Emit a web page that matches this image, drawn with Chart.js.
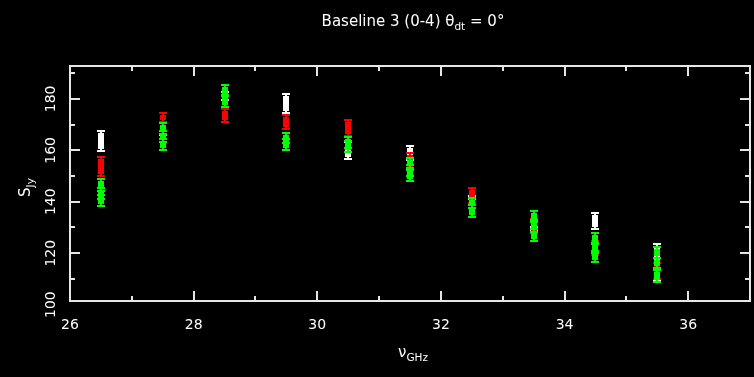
<!DOCTYPE html>
<html>
<head>
<meta charset="utf-8">
<script src="https://cdn.jsdelivr.net/npm/chart.js@4.4.1/dist/chart.umd.min.js"></script>
<style>
  html, body { margin: 0; padding: 0; background: #000; }
</style>
</head>
<body>
<canvas id="baseline" width="754" height="377"></canvas>
<script>
// tick labels
var xTicks = [26, 28, 30, 32, 34, 36];
var yTicks = [100, 120, 140, 160, 180];

// white points
var whiteFreq = [26.5, 27.5, 28.5, 29.5, 30.5, 31.5, 32.5, 33.5, 34.5, 35.5];
var whiteFlux = [163.6, 165.3, 181.0, 178.2, 160.0, 159.0, 141.5, 129.5, 132.5, 116.5];
var whiteErr  = [4.3, 1.2, 2.0, 4.0, 3.8, 3.0, 1.0, 1.0, 3.5, 7.5];

// red points
var redFreq = [26.5, 27.5, 28.5, 29.5, 30.5, 31.5, 32.5, 33.5, 34.5, 35.5];
var redFlux = [153.7, 172.8, 173.5, 171.0, 168.7, 156.0, 142.5, 130.5, 122.0, 113.0];
var redErr  = [4.1, 2.2, 3.0, 3.1, 3.5, 3.5, 3.2, 3.0, 3.0, 3.5];

// green points
var greenFreq = [26.5, 26.5, 26.5, 27.5, 27.5, 27.5, 28.5, 28.5, 29.5, 29.5,
                 30.5, 30.5, 31.5, 31.5, 31.5, 32.5, 32.5, 33.5, 33.5, 33.5,
                 34.5, 34.5, 34.5, 35.5, 35.5, 35.5];
var greenFlux = [146.5, 143.2, 140.5, 168.5, 165.5, 162.3, 183.3, 179.3, 164.7, 162.2,
                 163.0, 161.5, 155.0, 152.3, 150.3, 139.5, 136.3, 134.3, 130.5, 127.0,
                 125.8, 122.0, 118.7, 120.3, 116.2, 111.0];
var greenErr  = [2.7, 2.5, 2.6, 2.5, 2.5, 2.5, 2.5, 2.8, 2.4, 2.5,
                 2.4, 2.5, 2.4, 2.5, 2.6, 2.5, 2.7, 2.5, 2.6, 2.7,
                 2.5, 2.5, 2.6, 2.4, 2.5, 2.7];

function points(freq, flux, err) {
  var out = [];
  for (var i in freq) {
    out.push({ x: freq[i], y: flux[i], err: err[i] });
  }
  return out;
}

var FONT = '"DejaVu Sans", sans-serif';
var FG = '#ffffff';

// draws text pieces, some of them as subscripts, centred on (x, y)
function drawParts(ctx, parts, x, y, size, rot) {
  ctx.save();
  ctx.translate(x, y);
  if (rot) ctx.rotate(rot);
  var total = 0;
  parts.forEach(function(p) {
    ctx.font = (p.sub ? size * 0.7 : size) + 'px ' + FONT;
    p.w = ctx.measureText(p.t).width;
    total += p.w;
  });
  var cx = -total / 2;
  ctx.fillStyle = FG;
  ctx.textBaseline = 'middle';
  ctx.textAlign = 'left';
  parts.forEach(function(p) {
    ctx.font = (p.sub ? size * 0.7 : size) + 'px ' + FONT;
    ctx.fillText(p.t, cx, p.sub ? size * 0.35 : 0);
    cx += p.w;
  });
  ctx.restore();
}

var frame = {
  id: 'frame',
  beforeDatasetsDraw: function(chart) {
    var ctx = chart.ctx, a = chart.chartArea;
    var xs = chart.scales.x, ys = chart.scales.y;
    ctx.save();
    ctx.strokeStyle = '#e6e6e6';
    ctx.lineWidth = 2;
    ctx.strokeRect(a.left, a.top, a.right - a.left, a.bottom - a.top);
    ctx.beginPath();
    for (var v = 26; v <= 37; v++) {
      var px = Math.round(xs.getPixelForValue(v));
      var len = (v % 2 === 0) ? 10 : 5;
      ctx.moveTo(px, a.bottom); ctx.lineTo(px, a.bottom - len);
      ctx.moveTo(px, a.top); ctx.lineTo(px, a.top + len);
    }
    for (var w = 110; w <= 190; w += 10) {
      var py = Math.round(ys.getPixelForValue(w));
      var l2 = (w % 20 === 0) ? 10 : 5;
      ctx.moveTo(a.left, py); ctx.lineTo(a.left + l2, py);
      ctx.moveTo(a.right, py); ctx.lineTo(a.right - l2, py);
    }
    ctx.stroke();
    ctx.restore();

    // y tick labels, written vertically
    yTicks.forEach(function(t) {
      drawParts(ctx, [{ t: String(t) }], 51, ys.getPixelForValue(t), 14, -Math.PI / 2);
    });

    // titles
    var mid = (a.left + a.right) / 2 + 3;
    drawParts(ctx, [{ t: 'Baseline 3 (0-4) θ' }, { t: 'dt', sub: true }, { t: ' = 0°' }], mid, 22, 15);
    drawParts(ctx, [{ t: 'ν' }, { t: 'GHz', sub: true }], mid, 353, 15);
    drawParts(ctx, [{ t: 'S' }, { t: 'Jy', sub: true }], 26, (a.top + a.bottom) / 2 + 4, 15, -Math.PI / 2);
  }
};

var errorBars = {
  id: 'errorBars',
  beforeDatasetDraw: function(chart, args) {
    var ctx = chart.ctx;
    var ds = chart.data.datasets[args.index];
    var xs = chart.scales.x, ys = chart.scales.y;
    ctx.save();
    ctx.fillStyle = ds.borderColor;
    ds.data.forEach(function(p) {
      var x = Math.round(xs.getPixelForValue(p.x));
      var top = Math.round(ys.getPixelForValue(p.y + p.err));
      var bot = Math.round(ys.getPixelForValue(p.y - p.err));
      ctx.fillRect(x - 4, top, 8, 2);
      ctx.fillRect(x - 4, bot - 2, 8, 2);
      ctx.fillRect(x - 1, top, 2, bot - top);
      if (bot - top > 7) ctx.fillRect(x - 3, top + 3, 6, bot - top - 6);
    });
    ctx.restore();
  }
};

function series(label, color, data) {
  return {
    label: label,
    data: data,
    borderColor: color,
    backgroundColor: color,
    pointStyle: 'rect',
    pointRadius: 3,
    pointBorderWidth: 0,
    showLine: false
  };
}

var ctx = document.getElementById('baseline');

var chart = new Chart(ctx, {
  type: 'scatter',
  data: {
    // first dataset is drawn last (on top)
    datasets: [
      series('green', '#00ff00', points(greenFreq, greenFlux, greenErr)),
      series('red', '#ff0000', points(redFreq, redFlux, redErr)),
      series('white', '#ffffff', points(whiteFreq, whiteFlux, whiteErr))
    ]
  },
  options: {
    responsive: false,
    animation: false,
    devicePixelRatio: 1,
    layout: { padding: { top: 66, right: 1, left: 0, bottom: 0 } },
    plugins: {
      legend: { display: false },
      tooltip: { enabled: false }
    },
    scales: {
      x: {
        type: 'linear',
        min: 26,
        max: 37,
        grid: { display: false },
        border: { display: false },
        ticks: { color: FG, font: { family: FONT, size: 14 }, padding: 8, includeBounds: false },
        afterBuildTicks: function(scale) {
          scale.ticks = xTicks.map(function(v) { return { value: v }; });
        },
        afterFit: function(scale) { scale.height = 76; }
      },
      y: {
        type: 'linear',
        min: 101.4,
        max: 192.8,
        grid: { display: false },
        border: { display: false },
        ticks: { display: false },
        afterBuildTicks: function(scale) {
          scale.ticks = yTicks.map(function(v) { return { value: v }; });
        },
        afterFit: function(scale) { scale.width = 70; }
      }
    }
  },
  plugins: [frame, errorBars]
});
</script>
</body>
</html>
